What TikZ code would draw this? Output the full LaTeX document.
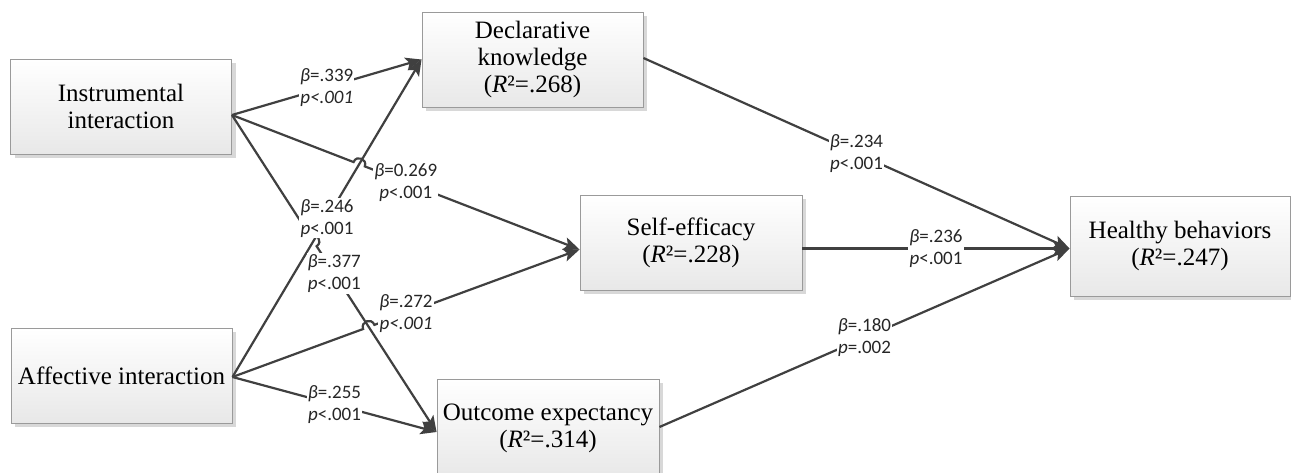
\documentclass[tikz,border=0pt]{standalone}
\usepackage{fontspec}
\setmainfont{Liberation Serif}
\newfontfamily\lblfont{Carlito}
\usetikzlibrary{arrows.meta,calc,shadows,intersections}

\definecolor{linec}{HTML}{404040}
\definecolor{boxedge}{HTML}{9A9A9A}
\definecolor{boxbot}{HTML}{E8E8E8}
\definecolor{shadec}{HTML}{D8D8D8}

\tikzset{
  box/.style={draw=boxedge, line width=0.9pt, top color=white, bottom color=boxbot,
    minimum width=221pt, minimum height=95pt, inner sep=0pt, align=center,
    font=\fontsize{25}{27}\selectfont,
    drop shadow={shadow xshift=4pt, shadow yshift=-4pt, fill=shadec, opacity=1}},
  conn/.style={draw=linec, line width=2.2pt,
    -{Stealth[length=16pt,width=13pt,inset=3.5pt]}},
  lbl/.style={fill=white, inner sep=1pt, align=center, text=black!85,
    font=\lblfont\fontsize{19}{22}\selectfont},
  hop/.style={bend left=90, looseness=1.7},
}

\begin{document}
\begin{tikzpicture}[x=1pt,y=-1pt]
\useasboundingbox (0,0) rectangle (1291,472);
\clip (0,0) rectangle (1291,472);
\fill[white] (0,0) rectangle (1291,472);

% variables
\node[box] (inst) at (121,106.5) {Instrumental\\interaction};
\node[box] (aff) at (121.5,375.5) {Affective interaction};
\node[box] (decl) at (532.5,59.5) {Declarative\\knowledge\\(\textit{R}²=.268)};
\node[box, minimum width=222pt] (se) at (691,242.5) {Self-efficacy\\(\textit{R}²=.228)};
\node[box, minimum width=222pt, minimum height=98pt] (oe) at (548,428) {Outcome expectancy\\(\textit{R}²=.314)};
\node[box, minimum width=220pt, minimum height=100pt] (hb) at (1180,246) {Healthy behaviors\\(\textit{R}²=.247)};

% connection points
\coordinate (instout) at ($(inst.east)+(0,8.5)$);
\coordinate (affout) at ($(aff.east)+(0,1.5)$);
\coordinate (declin) at (decl.west);
\coordinate (declout) at ($(decl.east)+(0,-1.5)$);
\coordinate (sein) at ($(se.west)+(0,7)$);
\coordinate (seout) at ($(se.east)+(0,6)$);
\coordinate (oein) at ($(oe.west)+(0,4)$);
\coordinate (oeout) at ($(oe.east)+(0,-1)$);
\coordinate (hbin) at ($(hb.west)+(0,2.5)$);

% paths
\draw[conn, name path=ad] (affout) -- (declin);
\draw[conn] (instout) -- (declin);

\path[name path=io] (instout) -- (oein);
\path[name path=is] (instout) -- (sein);
\path[name path=as] (affout) -- (sein);
\path[name intersections={of=ad and io, by=x1}];
\path[name intersections={of=ad and is, by=x2}];
\path[name intersections={of=io and as, by=x3}];

\draw[conn] (instout) -- ($(x2)!6pt!(instout)$) to[hop] ($(x2)!6pt!(sein)$) -- (sein);
\draw[conn] (instout) -- ($(x1)!6pt!(instout)$) to[hop] ($(x1)!6pt!(oein)$) -- (oein);
\draw[conn] (affout) -- ($(x3)!6pt!(affout)$) to[hop] ($(x3)!6pt!(sein)$) -- (sein);
\draw[conn] (affout) -- (oein);

\draw[conn] (declout) -- (hbin);
\draw[conn] (seout) -- (hbin);
\draw[conn] (oeout) -- (hbin);

% coefficients
\path (instout) -- node[lbl] (c1) {\textit{β}=.339\\\textit{p<.001}} (declin);
\path (instout) -- node[lbl] (c2) {\textit{β}=0.269\\\textit{p}<.001} (sein);
\path (affout) -- node[lbl] (c3) {\textit{β}=.246\\\textit{p}<.001} (declin);
\path (instout) -- node[lbl] (c4) {\textit{β}=.377\\\textit{p}<.001} (oein);
\path (affout) -- node[lbl] (c5) {\textit{β}=.272\\\textit{p<.001}} (sein);
\path (affout) -- node[lbl] (c6) {\textit{β}=.255\\\textit{p}<.001} (oein);
\path (declout) -- node[lbl] (c7) {\textit{β}=.234\\\textit{p}<.001} (hbin);
\path (seout) -- node[lbl] (c8) {\textit{β}=.236\\\textit{p}<.001} (hbin);
\path (oeout) -- node[lbl] (c9) {\textit{β}=.180\\\textit{p}=.002} (hbin);
\end{tikzpicture}
\end{document}
